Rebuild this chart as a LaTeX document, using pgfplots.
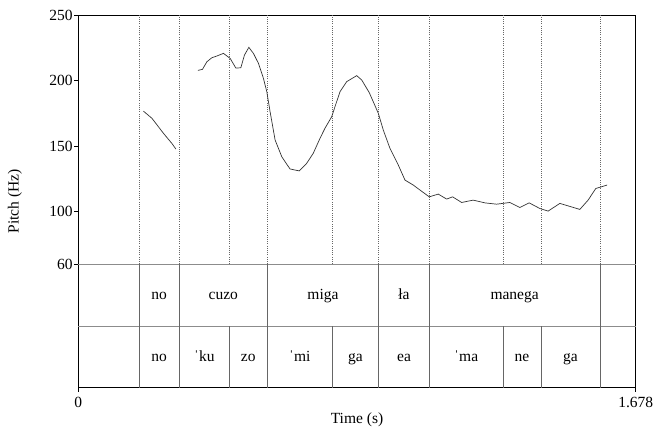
\documentclass[border=0pt]{standalone}
\usepackage{fontspec}
\setmainfont{Liberation Serif}
\usepackage{pgfplots}
\pgfplotsset{compat=1.18}
\begin{document}
\fontsize{15.5bp}{18bp}\selectfont
\begin{tikzpicture}
\useasboundingbox (-78.3bp,-44.3bp) rectangle (575.7bp,387.7bp);
\begin{axis}[
  at={(0,0)}, anchor=south west, scale only axis,
  width=557.4bp, height=372.4bp,
  xmin=0, xmax=1.678, ymin=-34.5, ymax=250,
  ytick={60,100,150,200,250},
  xtick={0,1.678}, xticklabels={0,1.678},
  tick pos=left, tick align=outside, major tick length=4bp,
  tick style={black, line width=0.8pt},
  axis line style={black, line width=1.1pt},
  /pgf/number format/assume math mode=true,
  tick label style={font=\fontsize{15.5bp}{18bp}\selectfont},
  xticklabel style={anchor=north, inner sep=0pt, yshift=-5bp},
  yticklabel style={anchor=east, inner sep=0pt, xshift=-1.5bp},
  label style={font=\fontsize{15.5bp}{18bp}\selectfont},
  xlabel={Time (s)},
  ylabel={Pitch (Hz)},
  xlabel style={at={(axis description cs:0.5,-0.0873)}, anchor=center},
  ylabel style={at={(axis description cs:-0.0915,0.5)}, anchor=south},
  clip=false,
]
% tier separators
\addplot[black!45, line width=1pt] coordinates {(0,60) (1.678,60)};
\addplot[black!45, line width=1pt] coordinates {(0,12.6) (1.678,12.6)};
% boundaries (dotted in pitch area)
\pgfplotsinvokeforeach{0.1827,0.3040,0.4545,0.5689,0.7637,0.9043,1.0566,1.2784,1.3928,1.5704}{
  \addplot[black!60, line width=0.6pt, dash pattern=on 0.8bp off 1.4bp] coordinates {(#1,60) (#1,250)};
  \addplot[black!60, line width=0.8pt] coordinates {(#1,12.6) (#1,-34.5)};
}
% tier 1 boundaries
\pgfplotsinvokeforeach{0.1827,0.3040,0.5689,0.9043,1.0566,1.5704}{
  \addplot[black!60, line width=0.8pt] coordinates {(#1,60) (#1,12.6)};
}
% pitch contour
\addplot[black!80, line width=0.7pt] coordinates {
(0.1960,176.8) (0.2217,171.3) (0.2565,159.8) (0.2818,152.1) (0.2938,147.8)
};
\addplot[black!80, line width=0.7pt] coordinates {
(0.3600,207.9) (0.3738,208.7) (0.3871,214.5) (0.4021,217.6) (0.4171,218.9)
(0.4370,220.9) (0.4571,217.1) (0.4743,209.7) (0.4893,209.9) (0.5002,219.6)
(0.5134,225.5) (0.5272,220.9) (0.5423,213.3) (0.5573,201.8) (0.5675,191.6)
(0.5774,176.3) (0.5925,154.7) (0.6126,141.9) (0.6373,132.6) (0.6653,131.1)
(0.6875,136.9) (0.7074,144.6) (0.7276,156.0) (0.7426,163.7) (0.7628,172.5)
(0.7727,180.2) (0.7878,191.6) (0.8079,199.3) (0.8381,203.9) (0.8531,200.6)
(0.8760,190.9) (0.9032,175.1) (0.9182,162.3) (0.9383,148.3) (0.9633,135.6)
(0.9835,124.1) (1.0084,120.3) (1.0286,116.5) (1.0565,111.3) (1.0836,113.4)
(1.1089,109.6) (1.1269,111.3) (1.1540,107.0) (1.1889,108.8) (1.2241,106.7)
(1.2592,105.7) (1.2992,107.0) (1.3293,103.2) (1.3573,106.7) (1.3895,102.4)
(1.4144,100.4) (1.4496,106.3) (1.4746,104.4) (1.5098,101.7) (1.5347,108.8)
(1.5579,117.7) (1.5750,119.0) (1.5919,120.3)
};
% tier texts
\begin{scope}[every node/.style={font=\fontsize{15.5bp}{18bp}\selectfont, anchor=base, inner sep=0pt}]
\node at (axis cs:0.2434,33.0) {no};
\node at (axis cs:0.4365,33.0) {cuzo};
\node at (axis cs:0.7366,33.0) {miga};
\node at (axis cs:0.9805,33.0) {ła};
\node at (axis cs:1.3135,33.0) {manega};
\node at (axis cs:0.2434,-14.3) {no};
\node at (axis cs:0.3793,-14.3) {ˈku};
\node at (axis cs:0.5117,-14.3) {zo};
\node at (axis cs:0.6663,-14.3) {ˈmi};
\node at (axis cs:0.8340,-14.3) {ga};
\node at (axis cs:0.9805,-14.3) {ea};
\node at (axis cs:1.1675,-14.3) {ˈma};
\node at (axis cs:1.3356,-14.3) {ne};
\node at (axis cs:1.4816,-14.3) {ga};
\end{scope}
\end{axis}
\end{tikzpicture}
\end{document}
